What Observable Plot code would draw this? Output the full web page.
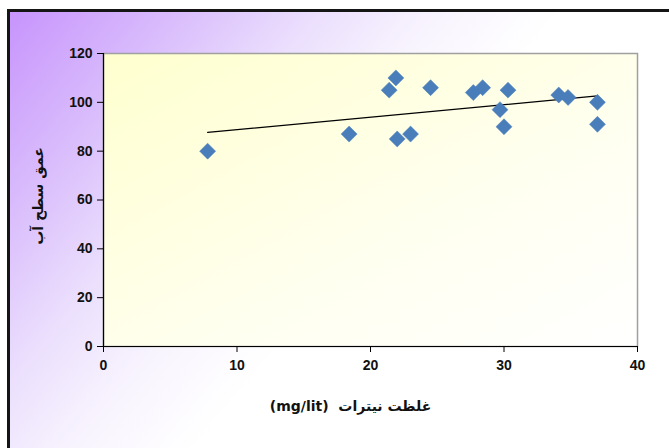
<!DOCTYPE html>
<html>
<head>
<meta charset="utf-8">
<script src="https://cdn.jsdelivr.net/npm/d3@7"></script>
<script src="https://cdn.jsdelivr.net/npm/@observablehq/plot@0.6"></script>
<style>
  html, body { margin: 0; padding: 0; width: 669px; height: 448px; overflow: hidden; background: #fff; }
  #bg {
    position: absolute; left: 7px; top: 9px; width: 700px; height: 480px;
    border-top: 3px solid #151515; border-left: 3px solid #151515;
    background: linear-gradient(130deg, #c794fc 0%, #d9bcfc 15%, #ebdffd 28%, #f8f4fe 39%, #ffffff 50%);
  }
  #chart { position: absolute; left: 0; top: 0; }
</style>
</head>
<body>
<div id="bg"></div>
<div id="chart"></div>
<script>
// Nitrate concentration (mg/lit) and water-table depth
const nitrate = [7.8, 18.4, 21.4, 21.9, 22.0, 23.0, 24.5, 27.7, 28.4, 30.3, 29.7, 30.0, 34.1, 34.8, 37.0, 37.0];
const depth   = [80, 87, 105, 110, 85, 87, 106, 104, 106, 105, 97, 90, 103, 102, 100, 91];
const xTicks = [0, 10, 20, 30, 40];
const yTicks = [0, 20, 40, 60, 80, 100, 120];
const xLabel = "غلظت نیترات  (mg/lit)";
const yLabel = "عمق سطح آب";

const data = nitrate.map((x, i) => ({x, y: depth[i]}));

const font = "'Liberation Sans', Arial, 'DejaVu Sans', sans-serif";

const plot = Plot.plot({
  width: 669,
  height: 448,
  marginLeft: 103,
  marginRight: 32,
  marginTop: 53,
  marginBottom: 102,
  style: {background: "none", fontFamily: font, overflow: "visible"},
  x: {domain: [0, 40], ticks: xTicks},
  y: {domain: [0, 120], ticks: yTicks},
  marks: [
    Plot.frame({fill: "url(#plotbg)", stroke: "#a0a0a0", strokeWidth: 1.5}),
    Plot.ruleX([0], {stroke: "#000", strokeWidth: 1.2}),
    Plot.ruleY([0], {stroke: "#000", strokeWidth: 1.2}),
    Plot.axisX({ticks: xTicks, tickSize: 6, tickPadding: 8, fontSize: 14, fontWeight: "bold", fill: "#111", label: null, stroke: "#000"}),
    Plot.axisY({ticks: yTicks, tickSize: 6, tickPadding: 5, fontSize: 14, fontWeight: "bold", fill: "#111", label: null, stroke: "#000"}),
    Plot.linearRegressionY(data, {x: "x", y: "y", stroke: "#000", strokeWidth: 1.2, ci: 0}),
    Plot.dot(data, {x: "x", y: "y", symbol: "diamond2", r: 7.2, fill: "#4a7ebb", stroke: "#4a7ebb", strokeWidth: 0.5}),
    Plot.text([xLabel], {frameAnchor: "bottom", dx: -20, dy: 64, textAnchor: "middle", fontSize: 14, fontWeight: "bold", fill: "#111", fontFamily: "'DejaVu Sans', sans-serif"}),
    Plot.text([yLabel], {frameAnchor: "left", dx: -65, dy: -4, rotate: -90, textAnchor: "middle", fontSize: 14, fontWeight: "bold", fill: "#111", fontFamily: "'DejaVu Sans', sans-serif"})
  ]
});

// gradient fill definition for the plotting area
const svg = d3.select(plot);
const defs = svg.insert("defs", ":first-child");
const g = defs.append("linearGradient").attr("id", "plotbg")
  .attr("x1", "0").attr("y1", "0").attr("x2", "1").attr("y2", "1");
g.append("stop").attr("offset", "0%").attr("stop-color", "#ffffcf");
g.append("stop").attr("offset", "60%").attr("stop-color", "#fffff0");
g.append("stop").attr("offset", "100%").attr("stop-color", "#ffffff");

// Persian labels are right-to-left
svg.selectAll("text").filter(function() { return /[\u0600-\u06FF]/.test(this.textContent); })
  .attr("direction", "rtl").style("unicode-bidi", "plaintext");

document.getElementById("chart").appendChild(plot);
</script>
</body>
</html>
